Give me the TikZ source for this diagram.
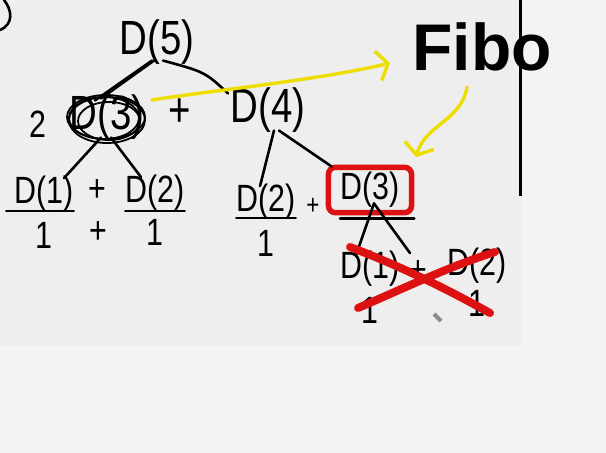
\documentclass[tikz,border=0pt]{standalone}
\usepackage{fontspec}
\setmainfont{Liberation Sans}
\newfontfamily\handfont[FakeStretch=0.8]{Liberation Sans}
\usetikzlibrary{arrows.meta,positioning}
\definecolor{fibPage}{HTML}{F3F3F3}
\definecolor{fibBoard}{HTML}{EEEEEE}
\definecolor{fibInk}{HTML}{000000}
\definecolor{fibYellow}{HTML}{EDDD00}
\definecolor{fibRed}{HTML}{DD1111}
\definecolor{fibGray}{HTML}{8A8A8A}
\tikzset{
  fib ink/.style={draw=fibInk, line width=2.6pt, line cap=round},
  fib hl/.style={draw=fibYellow, line width=3.4pt, line cap=round, line join=round},
  fib cross/.style={draw=fibRed, line width=8pt, line cap=round},
  fib box/.style={draw=fibRed, line width=5.5pt, rounded corners=7pt, inner xsep=12pt, inner ysep=5pt},
  fib big/.style={inner sep=0pt, text=fibInk, font=\handfont\fontsize{48}{48}\selectfont},
  fib mid/.style={inner sep=0pt, text=fibInk, font=\handfont\fontsize{38}{38}\selectfont},
  fib title/.style={inner sep=0pt, text=fibInk, font=\bfseries\fontsize{66}{66}\selectfont},
}
\begin{document}
\begin{tikzpicture}[x=1pt,y=-1pt]
\useasboundingbox(0,0)rectangle(606,453);
\fill[fibPage](0,0)rectangle(606,453);
\fill[fibBoard](0,0)rectangle(522,346);
\draw[fib ink,line width=3pt,line cap=butt](520.5,0)--(520.5,196);
\draw[fib ink](4,0)..controls(12,10)and(14,24)..(0,30);
% first two levels
\node[fib big](d5)at(157,42){D(5)};
\node[fib mid](two)at(38,124){2};
\node[fib big](d3)at(107,117){D(3)};
\node[fib big](p1)at(180,113){+};
\node[fib big](d4)at(268,110){D(4)};
\draw[fib ink]([xshift=-3pt,yshift=4pt]d5.south)--([xshift=-6pt,yshift=-4pt]d3.north);
\draw[fib ink]([xshift=-5pt,yshift=4pt]d5.south)--([xshift=-12pt,yshift=-6pt]d3.north);
\draw[fib ink]([xshift=6pt,yshift=4pt]d5.south)..controls(205,72)..([xshift=-40pt,yshift=-6pt]d4.north);
\foreach \dx/\dy/\rx/\ry in {0/-3/38/23,-3/-1/35/21,2/-4/31/19,-1/0/39/22}
  \draw[fib ink,line width=1.8pt]([xshift=\dx pt,yshift=\dy pt]d3.center)ellipse[x radius=\rx pt,y radius=\ry pt];
% Fibo
\node[fib title](fibo)at(482,47){Fibo};
\coordinate(hlS)at(152,100);
\coordinate(hlA)at(390,63);
\coordinate(hlT)at(467,87);
\coordinate(hlB)at(416,157);
\draw[fib hl,-{Straight Barb[length=10pt,width=30pt]}](hlS)..controls(200,92)and(320,80)..(hlA);
\draw[fib hl,-{Straight Barb[length=10pt,width=30pt]}](hlT)..controls(462,120)and(425,125)..(hlB);
% left subtree
\node[fib mid](d1a)at(44,194){D(1)};
\node[fib mid](pa)at(97,191){+};
\node[fib mid](d2a)at(155,193){D(2)};
\node[fib mid,below=10pt of d1a](oneA){1};
\node[fib mid](pb)at(98,233){+};
\node[fib mid,below=8pt of d2a](oneB){1};
\draw[fib ink]([xshift=-6pt,yshift=2pt]d3.south)--([xshift=20pt,yshift=-2pt]d1a.north);
\draw[fib ink]([xshift=4pt,yshift=2pt]d3.south)--([xshift=-14pt,yshift=-2pt]d2a.north);
\draw[fib ink]([xshift=-8pt,yshift=1pt]d1a.south west)--([yshift=1pt]d1a.south east);
\draw[fib ink]([yshift=0pt]d2a.south west)--([yshift=0pt]d2a.south east);
% right subtree
\node[fib mid](d2b)at(266,202){D(2)};
\node[fib mid,below=10pt of d2b](oneC){1};
\node[fib mid,font=\handfont\fontsize{28}{28}\selectfont](pc)at(313,206){+};
\node[fib mid,fib box](d3b)at(370,190){D(3)};
\draw[fib ink]([xshift=6pt,yshift=2pt]d4.south)--([xshift=-6pt,yshift=-2pt]d2b.north);
\draw[fib ink]([xshift=11pt,yshift=2pt]d4.south)--([xshift=6pt,yshift=-2pt]d3b.north west);
\draw[fib ink]([yshift=2pt]d2b.south west)--([yshift=2pt]d2b.south east);
\draw[fib ink]([xshift=-30pt,yshift=-3pt]d3b.south)--([yshift=-3pt]d3b.south east);
\node[fib mid](d1b)at(370,269){D(1)};
\node[fib mid](pd)at(418,272){+};
\node[fib mid](d2c)at(477,266){D(2)};
\node[fib mid,below=10pt of d1b](oneD){1};
\node[fib mid,below=6pt of d2c](oneE){1};
\draw[fib ink]([xshift=4pt,yshift=12pt]d3b.south)--([xshift=-14pt,yshift=-4pt]d1b.north);
\draw[fib ink]([xshift=4pt,yshift=12pt]d3b.south)--([xshift=40pt,yshift=-2pt]d1b.north);
% crossed out
\draw[fib cross](350,247)..controls(400,266)and(445,288)..(490,313);
\draw[fib cross](358,308)..controls(400,290)and(450,266)..(495,252);
\draw[draw=fibGray,line width=4pt](434,314)--(441,321);
\end{tikzpicture}
\end{document}
